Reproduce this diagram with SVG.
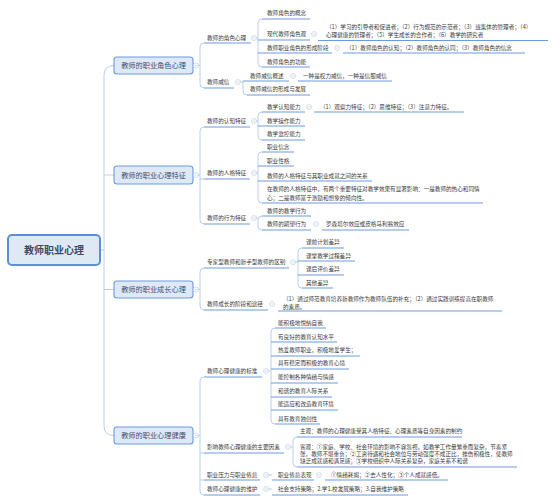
<svg xmlns="http://www.w3.org/2000/svg" width="553" height="502" viewBox="0 0 553 502">
<defs>
<style>
text{font-family:"Noto Sans CJK SC","Noto Sans",sans-serif;}
.t{font-size:5.6px;fill:#3a3a3a;}
.ul{stroke:#6a9ae0;stroke-width:1;fill:none;}
.cn{stroke:#a9c2e6;stroke-width:0.8;fill:none;}
.b1{fill:#dfe8f5;stroke:#6a9be0;stroke-width:1.1;}
.l1{font-size:7.2px;fill:#3d4f70;text-anchor:middle;}
.root{fill:#dfe8f5;stroke:#5b8fd6;stroke-width:2;}
.rt{font-size:10px;font-weight:bold;fill:#3c4a66;text-anchor:middle;}
</style>
<g id="col"><circle r="2.5" fill="#fff" stroke="#b6c6de" stroke-width="0.6"/><line x1="-1.3" x2="1.3" y1="0" y2="0" stroke="#b6c6de" stroke-width="0.6"/></g>
</defs>
<rect width="553" height="502" fill="#fff"/>

<g id="connectors">
<path class="cn" d="M100,250 H104 M114,65.5 Q104,65.5 104,75 L104,426 Q104,435.5 114,435.5 M104,175 H114 M104,289.5 H114"/>
<path class="cn" d="M196,65.5 H200 M204,43 Q200,43 200,47 L200,84 Q200,88 204,88"/>
<path class="cn" d="M254,38 H258 M262,19 Q258,19 258,23 L258,63 Q258,67 262,67"/>
<path class="cn" d="M238,82 H243 M243,81 L243,91 Q243,95 247,95"/>
<path class="cn" d="M196,175 H200 M204,127 Q200,127 200,131 L200,220 Q200,224 204,224 M200,179 H204"/>
<path class="cn" d="M254,121 H258 M262,112 Q258,112 258,116 L258,136 Q258,140 262,140"/>
<path class="cn" d="M254,173 H258 M262,152 Q258,152 258,156 L258,199 Q258,203 262,203"/>
<path class="cn" d="M254,218 H258 M262,216 Q258,216 258,220 L258,226 Q258,230 262,230"/>
<path class="cn" d="M196,289.5 H200 M204,268 Q200,268 200,272 L200,306 Q200,310 204,310"/>
<path class="cn" d="M293,262 H298 M302,248 Q298,248 298,252 L298,284 Q298,288 302,288"/>
<path class="cn" d="M196,435.5 H200 M204,377 Q200,377 200,381 L200,491 Q200,495 204,495 M200,453 H204 M200,480 H204"/>
<path class="cn" d="M266,371 H271 M275,328 Q271,328 271,332 L271,420 Q271,424 275,424"/>
<path class="cn" d="M288,447 H293 M297,437 Q293,437 293,441 L293,463 Q293,467 297,467"/>
<path class="cn" d="M266,475 H272 M266,489 H272"/>
</g>

<g id="root"><rect class="root" x="8" y="235" width="92" height="30" rx="4"/><text class="rt" x="54" y="253.6">教师职业心理</text></g>

<g id="n1"><rect class="b1" x="114" y="57" width="79" height="17" rx="3"/><text class="l1" x="153.5" y="68.1">教师的职业角色心理</text><use href="#col" x="196" y="65.5"/></g>
<g id="n2"><rect class="b1" x="114" y="166" width="79" height="18" rx="3"/><text class="l1" x="153.5" y="177.6">教师的职业心理特征</text><use href="#col" x="196" y="175"/></g>
<g id="n3"><rect class="b1" x="114" y="281" width="79" height="17" rx="3"/><text class="l1" x="153.5" y="292.1">教师的职业成长心理</text><use href="#col" x="196" y="289.5"/></g>
<g id="n4"><rect class="b1" x="114" y="427" width="79" height="17" rx="3"/><text class="l1" x="153.5" y="438.1">教师的职业心理健康</text><use href="#col" x="196" y="435.5"/></g>

<!-- group 1 -->
<g id="n1a"><text class="t" x="207" y="40">教师的角色心理</text><path class="ul" d="M204,43 H251"/><use href="#col" x="254" y="38"/></g>
<g id="n1a1"><text class="t" x="267" y="15">教师角色的概念</text><path class="ul" d="M262,19 H310"/></g>
<g id="n1a2"><text class="t" x="267" y="36">现代教师角色观</text><path class="ul" d="M258,40 H310"/><use href="#col" x="314" y="34"/></g>
<g id="n1a2x"><text class="t" x="326" y="29">（1）学习的引导者和促进者；（2）行为规范的示范者；（3）班集体的管理者；（4）</text><text class="t" x="326" y="36.5">心理健康的管理者；（5）学生成长的合作者；（6）教学的研究者</text><path class="ul" d="M318,40.5 H548"/></g>
<g id="n1a3"><text class="t" x="267" y="50">教师职业角色的形成阶段</text><path class="ul" d="M258,53 H332"/><use href="#col" x="337" y="48"/></g>
<g id="n1a3x"><text class="t" x="346" y="50">（1）教师角色的认知；（2）教师角色的认同；（3）教师角色的信念</text><path class="ul" d="M343,53 H525"/></g>
<g id="n1a4"><text class="t" x="267" y="64">教师角色的功能</text><path class="ul" d="M262,67 H310"/></g>
<g id="n1b"><text class="t" x="207" y="84">教师威信</text><path class="ul" d="M204,88 H234"/><use href="#col" x="238" y="82"/></g>
<g id="n1b1"><text class="t" x="250" y="78">教师威信概述</text><path class="ul" d="M243,81 H289"/><use href="#col" x="293" y="76"/></g>
<g id="n1b1x"><text class="t" x="303" y="78">一种是权力威信，一种是信服威信</text><path class="ul" d="M298,81 H392"/></g>
<g id="n1b2"><text class="t" x="250" y="91">教师威信的形成与发展</text><path class="ul" d="M247,95 H310"/></g>

<!-- group 2 -->
<g id="n2a"><text class="t" x="207" y="123">教师的认知特征</text><path class="ul" d="M204,127 H250"/><use href="#col" x="254" y="121"/></g>
<g id="n2a1"><text class="t" x="267" y="109">教学认知能力</text><path class="ul" d="M262,112 H305"/><use href="#col" x="309" y="107"/></g>
<g id="n2a1x"><text class="t" x="320" y="109">（1）观察力特征；（2）思维特征；（3）注意力特征。</text><path class="ul" d="M314,112 H464"/></g>
<g id="n2a2"><text class="t" x="267" y="123">教学操作能力</text><path class="ul" d="M258,126 H305"/></g>
<g id="n2a3"><text class="t" x="267" y="136">教学监控能力</text><path class="ul" d="M262,140 H305"/></g>
<g id="n2b"><text class="t" x="207" y="175">教师的人格特征</text><path class="ul" d="M204,179 H250"/><use href="#col" x="254" y="173"/></g>
<g id="n2b1"><text class="t" x="267" y="149">职业信念</text><path class="ul" d="M262,152 H294"/></g>
<g id="n2b2"><text class="t" x="267" y="163">职业性格</text><path class="ul" d="M258,166 H294"/></g>
<g id="n2b3"><text class="t" x="267" y="178">教师的人格特征与其职业成就之间的关系</text><path class="ul" d="M258,181 H372"/></g>
<g id="n2b4"><text class="t" x="267" y="191">在教师的人格特征中，有两个重要特征对教学效果有显著影响：一是教师的热心和同情</text><text class="t" x="267" y="200">心；二是教师富于激励和想象的倾向性。</text><path class="ul" d="M262,203 H483"/></g>
<g id="n2c"><text class="t" x="207" y="220">教师的行为特征</text><path class="ul" d="M204,224 H250"/><use href="#col" x="254" y="218"/></g>
<g id="n2c1"><text class="t" x="267" y="213">教师的教学行为</text><path class="ul" d="M262,216 H311"/></g>
<g id="n2c2"><text class="t" x="267" y="226">教师的期望行为</text><path class="ul" d="M262,230 H311"/><use href="#col" x="316" y="224"/></g>
<g id="n2c2x"><text class="t" x="326" y="226">罗森塔尔效应或皮格马利翁效应</text><path class="ul" d="M322,230 H409"/></g>

<!-- group 3 -->
<g id="n3a"><text class="t" x="207" y="264">专家型教师和新手型教师的区别</text><path class="ul" d="M204,268 H289"/><use href="#col" x="293" y="262"/></g>
<g id="n3a1"><text class="t" x="306" y="244">课前计划差异</text><path class="ul" d="M302,248 H344"/></g>
<g id="n3a2"><text class="t" x="306" y="258">课堂教学过程差异</text><path class="ul" d="M298,261 H355"/></g>
<g id="n3a3"><text class="t" x="306" y="271">课后评价差异</text><path class="ul" d="M298,275 H344"/></g>
<g id="n3a4"><text class="t" x="306" y="285">其他差异</text><path class="ul" d="M302,288 H333"/></g>
<g id="n3b"><text class="t" x="207" y="306">教师成长的阶段和途径</text><path class="ul" d="M204,310 H268"/><use href="#col" x="272" y="304"/></g>
<g id="n3bx"><text class="t" x="283" y="301">（1）通过师范教育培养新教师作为教师队伍的补充；（2）通过实践训练提高在职教师</text><text class="t" x="283" y="308.5">的素质。</text><path class="ul" d="M278,311 H502"/></g>

<!-- group 4 -->
<g id="n4a"><text class="t" x="207" y="373">教师心理健康的标准</text><path class="ul" d="M204,377 H262"/><use href="#col" x="266" y="371"/></g>
<g id="n4a1"><text class="t" x="278" y="325">能积极地悦纳自我</text><path class="ul" d="M275,328 H326"/></g>
<g id="n4a2"><text class="t" x="278" y="339">有良好的教育认知水平</text><path class="ul" d="M271,342 H337"/></g>
<g id="n4a3"><text class="t" x="278" y="352">热爱教师职业，积极地爱学生；</text><path class="ul" d="M271,356 H360"/></g>
<g id="n4a4"><text class="t" x="278" y="365">具有稳定而积极的教育心境</text><path class="ul" d="M271,369 H349"/></g>
<g id="n4a5"><text class="t" x="278" y="379">能控制各种情绪与情感</text><path class="ul" d="M271,383 H338"/></g>
<g id="n4a6"><text class="t" x="278" y="393">和谐的教育人际关系</text><path class="ul" d="M271,397 H332"/></g>
<g id="n4a7"><text class="t" x="278" y="406">能适应和改造教育环境</text><path class="ul" d="M271,410 H338"/></g>
<g id="n4a8"><text class="t" x="278" y="421">具有教育独创性</text><path class="ul" d="M275,424 H320"/></g>
<g id="n4b"><text class="t" x="207" y="449">影响教师心理健康的主要因素</text><path class="ul" d="M204,453 H284"/><use href="#col" x="288" y="447"/></g>
<g id="n4b1"><text class="t" x="300" y="433">主观：教师的心理健康受其人格特征、心理素质等自身因素的制约</text><path class="ul" d="M297,437 H462"/></g>
<g id="n4b2"><text class="t" x="300" y="449">客观：①家庭、学校、社会环境的影响不容忽视，如教学工作量繁重而复杂，节奏紧</text><text class="t" x="300" y="456">张，教师不堪重负；②工资待遇和社会地位与劳动强度不成正比，挫伤积极性，使教师</text><text class="t" x="300" y="463">缺乏成就感和满足感；③学校组织中人际关系复杂，家庭关系不和谐</text><path class="ul" d="M297,467 H517"/></g>
<g id="n4c"><text class="t" x="207" y="477">职业压力与职业倦怠</text><path class="ul" d="M204,480 H260"/><use href="#col" x="266" y="475"/></g>
<g id="n4c1"><text class="t" x="278" y="477">职业倦怠表现</text><path class="ul" d="M272,480 H314"/><use href="#col" x="319" y="475"/></g>
<g id="n4c1x"><text class="t" x="331" y="477">①情绪耗竭；②去人性化；③个人成就感低。</text><path class="ul" d="M325,480 H448"/></g>
<g id="n4d"><text class="t" x="207" y="491">教师心理健康的维护</text><path class="ul" d="M204,495 H260"/><use href="#col" x="266" y="489"/></g>
<g id="n4d1"><text class="t" x="278" y="491">社会支持策略；2.学1.校发展策略；3.自我维护策略</text><path class="ul" d="M272,495 H408"/></g>
</svg>
